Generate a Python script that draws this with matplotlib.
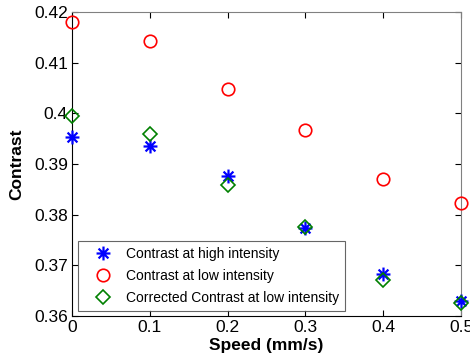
import matplotlib
matplotlib.use("Agg")
import matplotlib.pyplot as plt
from matplotlib.path import Path

plt.rcParams['font.family'] = ['Liberation Sans', 'DejaVu Sans']

speed = [0.0, 0.1, 0.2, 0.3, 0.4, 0.5]
contrast_high = [0.3953, 0.3936, 0.3876, 0.3774, 0.3683, 0.3630]
contrast_low = [0.4180, 0.4143, 0.4048, 0.3967, 0.3870, 0.3823]
contrast_corrected = [0.3995, 0.3959, 0.3859, 0.3776, 0.3671, 0.3626]

xticks = [0, 0.1, 0.2, 0.3, 0.4, 0.5]
xticklabels = ['0', '0.1', '0.2', '0.3', '0.4', '0.5']
yticks = [0.36, 0.37, 0.38, 0.39, 0.40, 0.41, 0.42]
yticklabels = ['0.36', '0.37', '0.38', '0.39', '0.4', '0.41', '0.42']

# asterisk marker built from a plus and a cross
d = 0.7071
asterisk = Path(
    [(-1, 0), (1, 0), (0, -1), (0, 1), (-d, -d), (d, d), (-d, d), (d, -d)],
    [Path.MOVETO, Path.LINETO] * 4,
)

fig = plt.figure(figsize=(4.70, 3.62), dpi=100)
ax = fig.add_axes([72 / 470, 1 - 316 / 362, (461 - 72) / 470, (316 - 12) / 362])

ax.plot(speed, contrast_high, linestyle='none', marker=asterisk, markersize=10,
        markerfacecolor='none', markeredgecolor='#0000ff', markeredgewidth=1.6,
        label='Contrast at high intensity', clip_on=False, zorder=3)
ax.plot(speed, contrast_low, linestyle='none', marker='o', markersize=9,
        markerfacecolor='none', markeredgecolor='#ff0000', markeredgewidth=1.2,
        label='Contrast at low intensity', clip_on=False, zorder=3)
ax.plot(speed, contrast_corrected, linestyle='none', marker='D', markersize=7.5,
        markerfacecolor='none', markeredgecolor='#008000', markeredgewidth=1.2,
        label='Corrected Contrast at low intensity', clip_on=False, zorder=3)

ax.set_xlim(0, 0.5)
ax.set_ylim(0.36, 0.42)
ax.set_xticks(xticks)
ax.set_xticklabels(xticklabels)
ax.set_yticks(yticks)
ax.set_yticklabels(yticklabels)
ax.tick_params(direction='in', top=True, right=True, length=4, width=0.8,
               labelsize=12.5, pad=3)

for side in ['left', 'bottom']:
    ax.spines[side].set_color('black')
for side in ['top', 'right']:
    ax.spines[side].set_color('#808080')
for s in ax.spines.values():
    s.set_linewidth(0.8)

ax.set_xlabel('Speed (mm/s)', fontsize=12.5, fontweight='bold', labelpad=2)
ax.set_ylabel('Contrast', fontsize=12.5, fontweight='bold', labelpad=7)

leg = ax.legend(loc='lower left', bbox_to_anchor=(6 / 389, 5 / 304), fontsize=10,
                frameon=True, fancybox=False, edgecolor='#404040',
                borderpad=0.45, handlelength=2.7, handletextpad=0.3,
                labelspacing=0.57, borderaxespad=0)
leg.get_frame().set_linewidth(0.8)

fig.savefig('out.png', dpi=100)
